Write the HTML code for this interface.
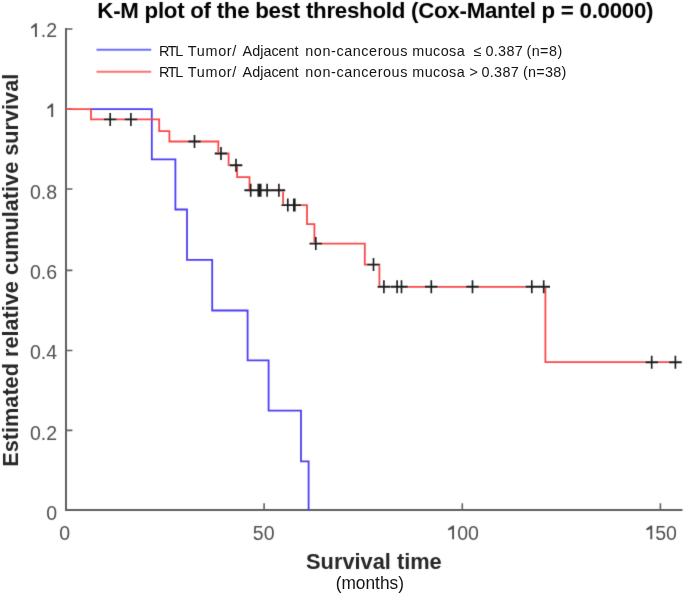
<!DOCTYPE html>
<html><head><meta charset="utf-8"><style>
html,body{margin:0;padding:0;background:#fff;width:685px;height:593px;overflow:hidden}
svg{display:block;will-change:transform}
text{font-family:"Liberation Sans",sans-serif}
</style></head><body>
<svg width="685" height="593" viewBox="0 0 685 593">

<defs><filter id="bl" x="0" y="0" width="685" height="593" filterUnits="userSpaceOnUse" color-interpolation-filters="sRGB"><feConvolveMatrix order="3" kernelMatrix="0.0100 0.0800 0.0100 0.0800 0.6400 0.0800 0.0100 0.0800 0.0100" edgeMode="duplicate"/></filter></defs><g filter="url(#bl)"><rect width="685" height="593" fill="#fff"/>
<path d="M66 28V510M65 510H682.5" fill="none" stroke="#606060" stroke-width="2"/>
<path d="M66 29.0H72.4M66 109.0H72.4M66 189.0H72.4M66 270.4H72.4M66 350.5H72.4M66 430.4H72.4M264.1 510V503.3M462.3 510V503.3M660.4 510V503.3" fill="none" stroke="#606060" stroke-width="1.6"/>
<path d="M90 109.1 H151.8 V159.3 H175.4 V209.5 H187.0 V259.9 H212.2 V310.5 H247.6 V360.3 H268.6 V410.7 H301.0 V461.4 H308.6 V511.0" fill="none" stroke="#4d3ef2" stroke-width="1.8"/>
<mask id="rm" maskUnits="userSpaceOnUse" x="0" y="0" width="685" height="593"><rect width="685" height="593" fill="#fff"/><rect x="103.90" y="118.2" width="12.6" height="2.4" fill="#000"/><rect x="124.60" y="118.2" width="12.6" height="2.4" fill="#000"/><rect x="188.20" y="140.3" width="12.6" height="2.4" fill="#000"/><rect x="214.70" y="152.3" width="12.6" height="2.4" fill="#000"/><rect x="229.70" y="164.0" width="12.6" height="2.4" fill="#000"/><rect x="244.40" y="189.1" width="12.6" height="2.4" fill="#000"/><rect x="252.00" y="189.1" width="12.6" height="2.4" fill="#000"/><rect x="253.20" y="189.1" width="12.6" height="2.4" fill="#000"/><rect x="254.40" y="189.1" width="12.6" height="2.4" fill="#000"/><rect x="260.80" y="189.1" width="12.6" height="2.4" fill="#000"/><rect x="272.60" y="189.1" width="12.6" height="2.4" fill="#000"/><rect x="281.50" y="203.9" width="12.6" height="2.4" fill="#000"/><rect x="287.50" y="203.9" width="12.6" height="2.4" fill="#000"/><rect x="288.50" y="203.9" width="12.6" height="2.4" fill="#000"/><rect x="309.50" y="242.4" width="12.6" height="2.4" fill="#000"/><rect x="367.20" y="263.4" width="12.6" height="2.4" fill="#000"/><rect x="377.60" y="285.6" width="12.6" height="2.4" fill="#000"/><rect x="390.80" y="285.6" width="12.6" height="2.4" fill="#000"/><rect x="395.20" y="285.6" width="12.6" height="2.4" fill="#000"/><rect x="425.00" y="285.6" width="12.6" height="2.4" fill="#000"/><rect x="466.20" y="285.6" width="12.6" height="2.4" fill="#000"/><rect x="525.50" y="285.6" width="12.6" height="2.4" fill="#000"/><rect x="537.40" y="285.6" width="12.6" height="2.4" fill="#000"/><rect x="645.40" y="361.0" width="12.6" height="2.4" fill="#000"/><rect x="669.10" y="361.0" width="12.6" height="2.4" fill="#000"/></mask>
<path d="M66 109.1 H91.0 V119.4 H159.2 V131.1 H169.4 V141.5 H218.3 V153.5 H228.6 V165.2 H237.1 V177.2 H249.5 V190.3 H283.1 V205.1 H307.0 V224.2 H314.4 V243.6 H364.8 V264.6 H379.4 V286.8 H545.4 V362.2 H675.4" fill="none" stroke="#fa4848" stroke-width="1.8" mask="url(#rm)"/>
<path d="M103.90 119.4h12.6M124.60 119.4h12.6M188.20 141.5h12.6M214.70 153.5h12.6M229.70 165.2h12.6M244.40 190.3h12.6M252.00 190.3h12.6M253.20 190.3h12.6M254.40 190.3h12.6M260.80 190.3h12.6M272.60 190.3h12.6M281.50 205.1h12.6M287.50 205.1h12.6M288.50 205.1h12.6M309.50 243.6h12.6M367.20 264.6h12.6M377.60 286.8h12.6M390.80 286.8h12.6M395.20 286.8h12.6M425.00 286.8h12.6M466.20 286.8h12.6M525.50 286.8h12.6M537.40 286.8h12.6M645.40 362.2h12.6M669.10 362.2h12.6" fill="none" stroke="#1c1c1c" stroke-width="1.9"/>
<path d="M110.20 112.9v13M130.90 112.9v13M194.50 135.0v13M221.00 147.0v13M236.00 158.7v13M250.70 183.8v13M258.30 183.8v13M259.50 183.8v13M260.70 183.8v13M267.10 183.8v13M278.90 183.8v13M287.80 198.6v13M293.80 198.6v13M294.80 198.6v13M315.80 237.1v13M373.50 258.1v13M383.90 280.3v13M397.10 280.3v13M401.50 280.3v13M431.30 280.3v13M472.50 280.3v13M531.80 280.3v13M543.70 280.3v13M651.70 355.7v13M675.40 355.7v13" fill="none" stroke="#1c1c1c" stroke-width="1.65"/>
<text x="57" y="37" font-size="19.5" fill="#505050" text-anchor="end">.2</text>
<text x="57" y="199" font-size="19.5" fill="#505050" text-anchor="end">0.8</text>
<text x="57" y="279" font-size="19.5" fill="#505050" text-anchor="end">0.6</text>
<text x="57" y="359" font-size="19.5" fill="#505050" text-anchor="end">0.4</text>
<text x="57" y="440" font-size="19.5" fill="#505050" text-anchor="end">0.2</text>
<text x="57" y="520" font-size="19.5" fill="#505050" text-anchor="end">0</text>
<path d="M36.85 37.00 L36.85 23.20 L35.50 23.20 L31.00 27.00 L31.35 28.70 L34.95 26.60 L34.95 37.00 Z" fill="#505050"/>
<path d="M53.15 117.00 L53.15 103.60 L51.80 103.60 L47.30 107.20 L47.65 108.90 L51.25 107.00 L51.25 117.00 Z" fill="#505050"/>
<text x="64.6" y="539.5" font-size="19.5" fill="#505050" text-anchor="middle">0</text>
<text x="263.7" y="539.5" font-size="19.5" fill="#505050" text-anchor="middle">50</text>
<text x="457.2" y="539.5" font-size="19.5" fill="#505050">00</text>
<text x="655.2" y="539.5" font-size="19.5" fill="#505050">50</text>
<path d="M454.05 539.30 L454.05 525.50 L452.70 525.50 L448.00 528.80 L448.35 530.50 L452.15 528.90 L452.15 539.30 Z" fill="#505050"/>
<path d="M652.25 539.30 L652.25 525.50 L650.90 525.50 L646.20 528.80 L646.55 530.50 L650.35 528.90 L650.35 539.30 Z" fill="#505050"/>
<text x="375.3" y="18.2" font-size="22.3" letter-spacing="-0.27" font-weight="bold" fill="#000" text-anchor="middle">K-M plot of the best threshold (Cox-Mantel p = 0.0000)</text>
<text x="373.9" y="568.9" font-size="21.8" font-weight="bold" fill="#262626" text-anchor="middle">Survival time</text>
<text transform="translate(17.7 270.25) rotate(-90)" font-size="21.7" font-weight="bold" fill="#262626" text-anchor="middle">Estimated relative cumulative survival</text>
<path d="M96.5 49.8H151.2" stroke="#6e6eff" stroke-width="2"/>
<path d="M96.5 71.7H151.2" stroke="#ff7070" stroke-width="2"/>
</g>
<text transform="translate(369.8 588.7) scale(1 1.08)" font-size="17.3" fill="#151515" text-anchor="middle">(months)</text>
<text x="159.1" y="56.2" font-size="14.4" letter-spacing="-1.4" fill="#141414">RTL</text>
<text x="187.8" y="56.2" font-size="14.4" letter-spacing="0.7" fill="#141414">Tumor/</text>
<text x="242.6" y="56.2" font-size="14.4" letter-spacing="0.0" fill="#141414">Adjacent</text>
<text x="305.3" y="56.2" font-size="14.4" letter-spacing="0.57" fill="#141414">non-cancerous</text>
<text x="412.3" y="56.2" font-size="14.4" letter-spacing="0.4" fill="#141414">mucosa</text>
<text x="473.7" y="56.2" font-size="14.4" letter-spacing="0" fill="#141414">&#8804;</text>
<text x="485.5" y="56.2" font-size="14.4" letter-spacing="0.3" fill="#141414">0.387</text>
<text x="526.4" y="56.2" font-size="14.4" letter-spacing="0.45" fill="#141414">(n=8)</text>
<text x="159.1" y="76.6" font-size="14.4" letter-spacing="-1.4" fill="#141414">RTL</text>
<text x="187.8" y="76.6" font-size="14.4" letter-spacing="0.7" fill="#141414">Tumor/</text>
<text x="242.6" y="76.6" font-size="14.4" letter-spacing="0.0" fill="#141414">Adjacent</text>
<text x="305.3" y="76.6" font-size="14.4" letter-spacing="0.57" fill="#141414">non-cancerous</text>
<text x="412.3" y="76.6" font-size="14.4" letter-spacing="0.4" fill="#141414">mucosa</text>
<text x="469.4" y="76.6" font-size="14.4" letter-spacing="0" fill="#141414">&gt;</text>
<text x="481.5" y="76.6" font-size="14.4" letter-spacing="0.3" fill="#141414">0.387</text>
<text x="522.9" y="76.6" font-size="14.4" letter-spacing="0.3" fill="#141414">(n=38)</text>
</svg></body></html>
